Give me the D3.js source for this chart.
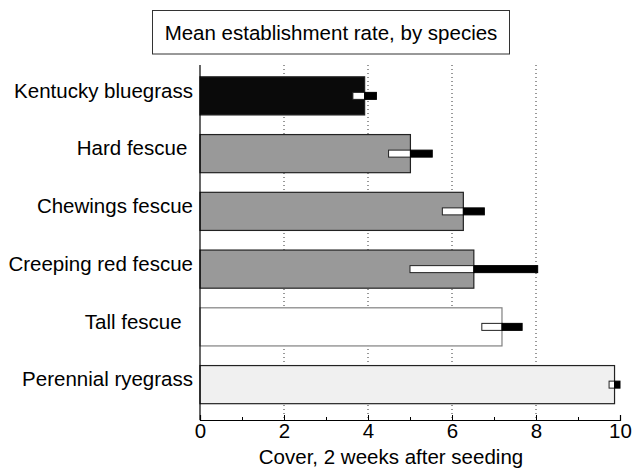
<!DOCTYPE html>
<html>
<head>
<meta charset="utf-8">
<script src="https://cdn.jsdelivr.net/npm/d3@7"></script>
<style>
  body { margin: 0; background: #fff; }
  text { font-family: "Liberation Sans", Arial, sans-serif; fill: #000; }
</style>
</head>
<body>
<div id="chart"></div>
<script>
// species, top to bottom; trailing nbsp keep the original label offsets
const species = ["Kentucky bluegrass", "Hard fescue\u00a0", "Chewings fescue", "Creeping red fescue", "Tall fescue\u00a0\u00a0", "Perennial ryegrass"];
const cover = [3.92, 5.01, 6.27, 6.52, 7.19, 9.87];
const stdErr = [0.28, 0.52, 0.50, 1.52, 0.48, 0.13];
const fills = ["#0a0a0a", "#999999", "#999999", "#999999", "#ffffff", "#f0f0f0"];
const strokes = ["#222222", "#222222", "#222222", "#222222", "#808080", "#222222"];
const majorTicks = [0, 2, 4, 6, 8, 10];
const minorTicks = [1, 3, 5, 7, 9];
const gridTicks = [2, 4, 6, 8];

const W = 633, H = 468;
const fs = "20.5px";

const svg = d3.select("#chart").append("svg")
    .attr("width", W)
    .attr("height", H);

const x = d3.scaleLinear().domain([0, 10]).range([200, 620]);
const y = d3.scaleBand().domain(species).range([67, 413.5])
    .paddingInner(0.34).paddingOuter(0.17);

const plotTop = 65, plotBottom = 420;

// dotted grid lines behind bars
svg.selectAll("line.grid")
    .data(gridTicks)
    .enter()
    .append("line")
    .attr("class", "grid")
    .attr("x1", d => x(d)).attr("x2", d => x(d))
    .attr("y1", plotTop).attr("y2", plotBottom)
    .attr("stroke", "#333")
    .attr("stroke-width", 1)
    .attr("stroke-dasharray", "1,3");

const rows = species.map((s, i) => ({ s: s, v: cover[i], e: stdErr[i], fill: fills[i], stroke: strokes[i] }));

svg.selectAll("rect.bar")
    .data(rows)
    .enter()
    .append("rect")
    .attr("class", "bar")
    .attr("x", x(0))
    .attr("y", d => y(d.s))
    .attr("width", d => x(d.v) - x(0))
    .attr("height", y.bandwidth())
    .attr("fill", d => d.fill)
    .attr("stroke", d => d.stroke)
    .attr("stroke-width", 1.2);

// error boxes: white below mean, black above
const eh = 7;
svg.selectAll("rect.lo")
    .data(rows)
    .enter()
    .append("rect")
    .attr("class", "lo")
    .attr("x", d => x(d.v - d.e))
    .attr("y", d => y(d.s) + y.bandwidth() / 2 - eh / 2)
    .attr("width", d => x(d.v) - x(d.v - d.e))
    .attr("height", eh)
    .attr("fill", "#fff")
    .attr("stroke", "#222")
    .attr("stroke-width", 1);

svg.selectAll("rect.hi")
    .data(rows)
    .enter()
    .append("rect")
    .attr("class", "hi")
    .attr("x", d => x(d.v))
    .attr("y", d => y(d.s) + y.bandwidth() / 2 - eh / 2)
    .attr("width", d => x(d.v + d.e) - x(d.v))
    .attr("height", eh)
    .attr("fill", "#000")
    .attr("stroke", "#000")
    .attr("stroke-width", 1);

// axes lines
svg.append("line")
    .attr("x1", x(0)).attr("x2", x(0))
    .attr("y1", plotTop).attr("y2", plotBottom)
    .attr("stroke", "#000").attr("stroke-width", 1.2);

const xAxis = svg.append("g")
    .attr("transform", `translate(0,${plotBottom})`)
    .call(d3.axisBottom(x).tickValues(majorTicks).tickSize(-5).tickPadding(3).tickFormat(d3.format("d")));
xAxis.select(".domain").attr("stroke", "#000").attr("stroke-width", 1.2);
xAxis.selectAll("text").style("font-size", fs).attr("font-family", null);
xAxis.attr("font-family", null);

const xMinor = svg.append("g")
    .attr("transform", `translate(0,${plotBottom})`)
    .call(d3.axisBottom(x).tickValues(minorTicks).tickSize(-3).tickFormat(""));
xMinor.select(".domain").remove();

// category labels
svg.selectAll("text.cat")
    .data(species)
    .enter()
    .append("text")
    .attr("class", "cat")
    .attr("x", 193)
    .attr("y", d => y(d) + y.bandwidth() / 2)
    .attr("dy", "0.08em")
    .attr("text-anchor", "end")
    .style("font-size", fs)
    .text(d => d);

// axis title
svg.append("text")
    .attr("x", 391)
    .attr("y", 464)
    .attr("text-anchor", "middle")
    .style("font-size", fs)
    .text("Cover, 2 weeks after seeding");

// boxed title
svg.append("rect")
    .attr("x", 152.5).attr("y", 10.5)
    .attr("width", 357).attr("height", 43.5)
    .attr("fill", "#fff")
    .attr("stroke", "#333").attr("stroke-width", 1);

svg.append("text")
    .attr("x", 331)
    .attr("y", 40)
    .attr("text-anchor", "middle")
    .style("font-size", fs)
    .text("Mean establishment rate, by species");
</script>
</body>
</html>
